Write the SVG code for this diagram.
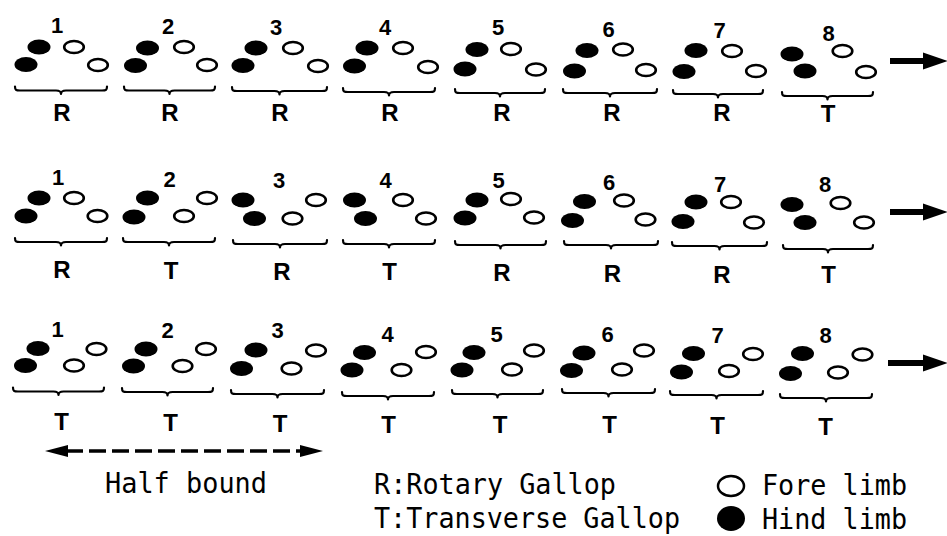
<svg xmlns="http://www.w3.org/2000/svg" width="947" height="536" viewBox="0 0 947 536">
  <style>
    .hind { fill: #000; }
    .fore { fill: #fff; stroke: #000; stroke-width: 2.6; }
    .brace { fill: none; stroke: #000; stroke-width: 2.2; stroke-linecap: round; stroke-linejoin: round; }
    .num { font-family: "Liberation Sans", Arial, sans-serif; font-weight: bold; font-size: 22px; text-anchor: middle; fill: #000; }
    .lbl { font-family: "Liberation Sans", Arial, sans-serif; font-weight: bold; font-size: 24px; text-anchor: middle; fill: #000; }
    .mono { font-family: "DejaVu Sans Mono", "Liberation Mono", monospace; font-size: 29px; fill: #000; }
  </style>
  <rect width="947" height="536" fill="#fff"/>

  <!-- Row 1 -->
  <g id="r1-s1">
    <text class="num" x="57" y="33">1</text>
    <ellipse class="hind" cx="39" cy="47" rx="11.5" ry="7.5"/>
    <ellipse class="hind" cx="26" cy="64.5" rx="11.5" ry="7.5"/>
    <ellipse class="fore" cx="74" cy="47" rx="9.8" ry="6"/>
    <ellipse class="fore" cx="98" cy="65" rx="9.8" ry="6"/>
    <path class="brace" d="M15,86.5 C15,90 16,90.5 20,90.5 L56,90.5 C59,90.5 61,91.5 61,94 C61,91.5 63,90.5 66,90.5 L102,90.5 C106,90.5 107,90 107,86.5"/>
    <text class="lbl" x="62" y="121">R</text>
  </g>
  <g id="r1-s2">
    <text class="num" x="168" y="34">2</text>
    <ellipse class="hind" cx="147.5" cy="48" rx="11.5" ry="7.5"/>
    <ellipse class="hind" cx="135.5" cy="65.5" rx="11.5" ry="7.5"/>
    <ellipse class="fore" cx="184" cy="47" rx="9.8" ry="6"/>
    <ellipse class="fore" cx="207" cy="65" rx="9.8" ry="6"/>
    <path class="brace" d="M124,86.5 C124,90 125,90.5 129,90.5 L164.5,90.5 C167.5,90.5 169.5,91.5 169.5,94 C169.5,91.5 171.5,90.5 174.5,90.5 L210,90.5 C214,90.5 215,90 215,86.5"/>
    <text class="lbl" x="170" y="121">R</text>
  </g>
  <g id="r1-s3">
    <text class="num" x="276" y="35">3</text>
    <ellipse class="hind" cx="256" cy="48" rx="11.5" ry="7.5"/>
    <ellipse class="hind" cx="243" cy="65.5" rx="11.5" ry="7.5"/>
    <ellipse class="fore" cx="293" cy="48" rx="9.8" ry="6"/>
    <ellipse class="fore" cx="318" cy="66" rx="9.8" ry="6"/>
    <path class="brace" d="M232,87 C232,90.5 233,91 237,91 L274.5,91 C277.5,91 279.5,92 279.5,94.5 C279.5,92 281.5,91 284.5,91 L322,91 C326,91 327,90.5 327,87"/>
    <text class="lbl" x="280" y="121">R</text>
  </g>
  <g id="r1-s4">
    <text class="num" x="385" y="35">4</text>
    <ellipse class="hind" cx="367" cy="48" rx="11.5" ry="7.5"/>
    <ellipse class="hind" cx="354.5" cy="66" rx="11.5" ry="7.5"/>
    <ellipse class="fore" cx="403" cy="48" rx="9.8" ry="6"/>
    <ellipse class="fore" cx="428" cy="67" rx="9.8" ry="6"/>
    <path class="brace" d="M343,88 C343,91.5 344,92 348,92 L384,92 C387,92 389,93 389,95.5 C389,93 391,92 394,92 L430,92 C434,92 435,91.5 435,88"/>
    <text class="lbl" x="390" y="121">R</text>
  </g>
  <g id="r1-s5">
    <text class="num" x="498" y="35">5</text>
    <ellipse class="hind" cx="477" cy="49.5" rx="11.5" ry="7.5"/>
    <ellipse class="hind" cx="465" cy="69" rx="11.5" ry="7.5"/>
    <ellipse class="fore" cx="511" cy="49" rx="9.8" ry="6"/>
    <ellipse class="fore" cx="536" cy="69.5" rx="9.8" ry="6"/>
    <path class="brace" d="M455,89 C455,92.5 456,93 460,93 L495,93 C498,93 500,94 500,96.5 C500,94 502,93 505,93 L540,93 C544,93 545,92.5 545,89"/>
    <text class="lbl" x="502" y="121">R</text>
  </g>
  <g id="r1-s6">
    <text class="num" x="608.5" y="37">6</text>
    <ellipse class="hind" cx="587" cy="50.5" rx="11.5" ry="7.5"/>
    <ellipse class="hind" cx="574.5" cy="71" rx="11.5" ry="7.5"/>
    <ellipse class="fore" cx="623" cy="49.5" rx="9.8" ry="6"/>
    <ellipse class="fore" cx="646" cy="70" rx="9.8" ry="6"/>
    <path class="brace" d="M563,89 C563,92.5 564,93 568,93 L605,93 C608,93 610,94 610,96.5 C610,94 612,93 615,93 L652,93 C656,93 657,92.5 657,89"/>
    <text class="lbl" x="612" y="121">R</text>
  </g>
  <g id="r1-s7">
    <text class="num" x="719.5" y="38">7</text>
    <ellipse class="hind" cx="696" cy="50.5" rx="11.5" ry="7.5"/>
    <ellipse class="hind" cx="684" cy="71.5" rx="11.5" ry="7.5"/>
    <ellipse class="fore" cx="732" cy="51" rx="9.8" ry="6"/>
    <ellipse class="fore" cx="756" cy="71" rx="9.8" ry="6"/>
    <path class="brace" d="M673,90 C673,93.5 674,94 678,94 L713,94 C716,94 718,95 718,97.5 C718,95 720,94 723,94 L758,94 C762,94 763,93.5 763,90"/>
    <text class="lbl" x="722" y="121">R</text>
  </g>
  <g id="r1-s8">
    <text class="num" x="828.5" y="41">8</text>
    <ellipse class="hind" cx="792" cy="54" rx="11.5" ry="7.5"/>
    <ellipse class="hind" cx="805" cy="71" rx="11.5" ry="7.5"/>
    <ellipse class="fore" cx="842.5" cy="51" rx="9.8" ry="6"/>
    <ellipse class="fore" cx="866" cy="72" rx="9.8" ry="6"/>
    <path class="brace" d="M782,92 C782,95.5 783,96 787,96 L822.5,96 C825.5,96 827.5,97 827.5,99.5 C827.5,97 829.5,96 832.5,96 L868,96 C872,96 873,95.5 873,92"/>
    <text class="lbl" x="828" y="122">T</text>
  </g>

  <!-- Row 2 -->
  <g id="r2-s1">
    <text class="num" x="58" y="185">1</text>
    <ellipse class="hind" cx="39" cy="198" rx="11.5" ry="7.5"/>
    <ellipse class="hind" cx="26" cy="216" rx="11.5" ry="7.5"/>
    <ellipse class="fore" cx="74" cy="198" rx="9.8" ry="6"/>
    <ellipse class="fore" cx="97.5" cy="216" rx="9.8" ry="6"/>
    <path class="brace" d="M15,238 C15,241.5 16,242 20,242 L56,242 C59,242 61,243 61,245.5 C61,243 63,242 66,242 L102,242 C106,242 107,241.5 107,238"/>
    <text class="lbl" x="62" y="278">R</text>
  </g>
  <g id="r2-s2">
    <text class="num" x="169.5" y="187">2</text>
    <ellipse class="hind" cx="147.5" cy="198" rx="11.5" ry="7.5"/>
    <ellipse class="hind" cx="134" cy="217" rx="11.5" ry="7.5"/>
    <ellipse class="fore" cx="184" cy="216" rx="9.8" ry="6"/>
    <ellipse class="fore" cx="207" cy="198" rx="9.8" ry="6"/>
    <path class="brace" d="M123,238 C123,241.5 124,242 128,242 L164,242 C167,242 169,243 169,245.5 C169,243 171,242 174,242 L210,242 C214,242 215,241.5 215,238"/>
    <text class="lbl" x="171" y="279">T</text>
  </g>
  <g id="r2-s3">
    <text class="num" x="279" y="188">3</text>
    <ellipse class="hind" cx="243" cy="200" rx="11.5" ry="7.5"/>
    <ellipse class="hind" cx="254.5" cy="218.5" rx="11.5" ry="7.5"/>
    <ellipse class="fore" cx="292.5" cy="218.5" rx="9.8" ry="6"/>
    <ellipse class="fore" cx="316" cy="200" rx="9.8" ry="6"/>
    <path class="brace" d="M233,240 C233,243.5 234,244 238,244 L275,244 C278,244 280,245 280,247.5 C280,245 282,244 285,244 L322,244 C326,244 327,243.5 327,240"/>
    <text class="lbl" x="282" y="280">R</text>
  </g>
  <g id="r2-s4">
    <text class="num" x="385.5" y="188">4</text>
    <ellipse class="hind" cx="354.5" cy="200" rx="11.5" ry="7.5"/>
    <ellipse class="hind" cx="365.5" cy="218.5" rx="11.5" ry="7.5"/>
    <ellipse class="fore" cx="403" cy="200" rx="9.8" ry="6"/>
    <ellipse class="fore" cx="426" cy="218.5" rx="9.8" ry="6"/>
    <path class="brace" d="M343,240 C343,243.5 344,244 348,244 L384,244 C387,244 389,245 389,247.5 C389,245 391,244 394,244 L430,244 C434,244 435,243.5 435,240"/>
    <text class="lbl" x="389.5" y="280">T</text>
  </g>
  <g id="r2-s5">
    <text class="num" x="498.5" y="188">5</text>
    <ellipse class="hind" cx="477" cy="200" rx="11.5" ry="7.5"/>
    <ellipse class="hind" cx="465" cy="218" rx="11.5" ry="7.5"/>
    <ellipse class="fore" cx="511" cy="199" rx="9.8" ry="6"/>
    <ellipse class="fore" cx="534" cy="217.5" rx="9.8" ry="6"/>
    <path class="brace" d="M455,241 C455,244.5 456,245 460,245 L495.5,245 C498.5,245 500.5,246 500.5,248.5 C500.5,246 502.5,245 505.5,245 L541,245 C545,245 546,244.5 546,241"/>
    <text class="lbl" x="502" y="281">R</text>
  </g>
  <g id="r2-s6">
    <text class="num" x="609" y="190">6</text>
    <ellipse class="hind" cx="584.5" cy="201.5" rx="11.5" ry="7.5"/>
    <ellipse class="hind" cx="572.5" cy="220.5" rx="11.5" ry="7.5"/>
    <ellipse class="fore" cx="624" cy="200.5" rx="9.8" ry="6"/>
    <ellipse class="fore" cx="645.5" cy="219.5" rx="9.8" ry="6"/>
    <path class="brace" d="M564,241 C564,244.5 565,245 569,245 L606,245 C609,245 611,246 611,248.5 C611,246 613,245 616,245 L653,245 C657,245 658,244.5 658,241"/>
    <text class="lbl" x="612.5" y="282">R</text>
  </g>
  <g id="r2-s7">
    <text class="num" x="720" y="192">7</text>
    <ellipse class="hind" cx="696" cy="202" rx="11.5" ry="7.5"/>
    <ellipse class="hind" cx="683" cy="221.5" rx="11.5" ry="7.5"/>
    <ellipse class="fore" cx="731" cy="202" rx="9.8" ry="6"/>
    <ellipse class="fore" cx="754" cy="222.5" rx="9.8" ry="6"/>
    <path class="brace" d="M672,242 C672,245.5 673,246 677,246 L714.5,246 C717.5,246 719.5,247 719.5,249.5 C719.5,247 721.5,246 724.5,246 L762,246 C766,246 767,245.5 767,242"/>
    <text class="lbl" x="722" y="283">R</text>
  </g>
  <g id="r2-s8">
    <text class="num" x="825" y="192">8</text>
    <ellipse class="hind" cx="792" cy="204.5" rx="11.5" ry="7.5"/>
    <ellipse class="hind" cx="805" cy="222.5" rx="11.5" ry="7.5"/>
    <ellipse class="fore" cx="840.5" cy="203" rx="9.8" ry="6"/>
    <ellipse class="fore" cx="864" cy="222.5" rx="9.8" ry="6"/>
    <path class="brace" d="M783,245 C783,248.5 784,249 788,249 L823,249 C826,249 828,250 828,252.5 C828,250 830,249 833,249 L868,249 C872,249 873,248.5 873,245"/>
    <text class="lbl" x="828.5" y="283">T</text>
  </g>

  <!-- Row 3 -->
  <g id="r3-s1">
    <text class="num" x="57.5" y="337">1</text>
    <ellipse class="hind" cx="38" cy="348.5" rx="11.5" ry="7.5"/>
    <ellipse class="hind" cx="25.5" cy="365.5" rx="11.5" ry="7.5"/>
    <ellipse class="fore" cx="74" cy="365.5" rx="9.8" ry="6"/>
    <ellipse class="fore" cx="96.5" cy="349" rx="9.8" ry="6"/>
    <path class="brace" d="M13,387.5 C13,391 14,391.5 18,391.5 L53.5,391.5 C56.5,391.5 58.5,392.5 58.5,395 C58.5,392.5 60.5,391.5 63.5,391.5 L99,391.5 C103,391.5 104,391 104,387.5"/>
    <text class="lbl" x="61.5" y="430">T</text>
  </g>
  <g id="r3-s2">
    <text class="num" x="167.5" y="338">2</text>
    <ellipse class="hind" cx="146" cy="349" rx="11.5" ry="7.5"/>
    <ellipse class="hind" cx="133.5" cy="366" rx="11.5" ry="7.5"/>
    <ellipse class="fore" cx="182.5" cy="366" rx="9.8" ry="6"/>
    <ellipse class="fore" cx="206" cy="349" rx="9.8" ry="6"/>
    <path class="brace" d="M122,388 C122,391.5 123,392 127,392 L162.5,392 C165.5,392 167.5,393 167.5,395.5 C167.5,393 169.5,392 172.5,392 L208,392 C212,392 213,391.5 213,388"/>
    <text class="lbl" x="170.5" y="431">T</text>
  </g>
  <g id="r3-s3">
    <text class="num" x="277.5" y="338">3</text>
    <ellipse class="hind" cx="256" cy="350" rx="11.5" ry="7.5"/>
    <ellipse class="hind" cx="241.5" cy="368.5" rx="11.5" ry="7.5"/>
    <ellipse class="fore" cx="291.5" cy="368.5" rx="9.8" ry="6"/>
    <ellipse class="fore" cx="316" cy="350.5" rx="9.8" ry="6"/>
    <path class="brace" d="M231,390 C231,393.5 232,394 236,394 L272.5,394 C275.5,394 277.5,395 277.5,397.5 C277.5,395 279.5,394 282.5,394 L319,394 C323,394 324,393.5 324,390"/>
    <text class="lbl" x="280" y="432">T</text>
  </g>
  <g id="r3-s4">
    <text class="num" x="387.5" y="342">4</text>
    <ellipse class="hind" cx="364.5" cy="352.5" rx="11.5" ry="7.5"/>
    <ellipse class="hind" cx="352" cy="370" rx="11.5" ry="7.5"/>
    <ellipse class="fore" cx="401.5" cy="370" rx="9.8" ry="6"/>
    <ellipse class="fore" cx="426" cy="352" rx="9.8" ry="6"/>
    <path class="brace" d="M342,392 C342,395.5 343,396 347,396 L383,396 C386,396 388,397 388,399.5 C388,397 390,396 393,396 L429,396 C433,396 434,395.5 434,392"/>
    <text class="lbl" x="388.5" y="433">T</text>
  </g>
  <g id="r3-s5">
    <text class="num" x="496.5" y="342">5</text>
    <ellipse class="hind" cx="474" cy="352.5" rx="11.5" ry="7.5"/>
    <ellipse class="hind" cx="462" cy="370" rx="11.5" ry="7.5"/>
    <ellipse class="fore" cx="512" cy="369.5" rx="9.8" ry="6"/>
    <ellipse class="fore" cx="534" cy="350.5" rx="9.8" ry="6"/>
    <path class="brace" d="M452,390 C452,393.5 453,394 457,394 L492.5,394 C495.5,394 497.5,395 497.5,397.5 C497.5,395 499.5,394 502.5,394 L538,394 C542,394 543,393.5 543,390"/>
    <text class="lbl" x="500" y="433">T</text>
  </g>
  <g id="r3-s6">
    <text class="num" x="607.5" y="342">6</text>
    <ellipse class="hind" cx="584" cy="353" rx="11.5" ry="7.5"/>
    <ellipse class="hind" cx="571.5" cy="370.5" rx="11.5" ry="7.5"/>
    <ellipse class="fore" cx="622" cy="369.5" rx="9.8" ry="6"/>
    <ellipse class="fore" cx="644" cy="350.5" rx="9.8" ry="6"/>
    <path class="brace" d="M562,389 C562,392.5 563,393 567,393 L603.5,393 C606.5,393 608.5,394 608.5,396.5 C608.5,394 610.5,393 613.5,393 L650,393 C654,393 655,392.5 655,389"/>
    <text class="lbl" x="609.5" y="433">T</text>
  </g>
  <g id="r3-s7">
    <text class="num" x="717.5" y="343">7</text>
    <ellipse class="hind" cx="693.5" cy="353.5" rx="11.5" ry="7.5"/>
    <ellipse class="hind" cx="681.5" cy="372" rx="11.5" ry="7.5"/>
    <ellipse class="fore" cx="729" cy="371" rx="9.8" ry="6"/>
    <ellipse class="fore" cx="753" cy="354" rx="9.8" ry="6"/>
    <path class="brace" d="M670,391 C670,394.5 671,395 675,395 L711.5,395 C714.5,395 716.5,396 716.5,398.5 C716.5,396 718.5,395 721.5,395 L758,395 C762,395 763,394.5 763,391"/>
    <text class="lbl" x="717.5" y="434">T</text>
  </g>
  <g id="r3-s8">
    <text class="num" x="825.5" y="343">8</text>
    <ellipse class="hind" cx="802.5" cy="353.5" rx="11.5" ry="7.5"/>
    <ellipse class="hind" cx="790.5" cy="373.5" rx="11.5" ry="7.5"/>
    <ellipse class="fore" cx="838" cy="372.5" rx="9.8" ry="6"/>
    <ellipse class="fore" cx="862.5" cy="354.5" rx="9.8" ry="6"/>
    <path class="brace" d="M780,394 C780,397.5 781,398 785,398 L821,398 C824,398 826,399 826,401.5 C826,399 828,398 831,398 L867,398 C871,398 872,397.5 872,394"/>
    <text class="lbl" x="825.5" y="435">T</text>
  </g>

  <!-- Direction arrows and half-bound span -->
  <g id="connectors">
    <path d="M890,58 L923,58 L923,52.5 L948,61 L923,69.5 L923,64 L890,64 Z" fill="#000"/>
    <path d="M890,209 L923,209 L923,203.5 L948,212 L923,220.5 L923,215 L890,215 Z" fill="#000"/>
    <path d="M888,360 L923,360 L923,354.5 L948,363 L923,371.5 L923,366 L888,366 Z" fill="#000"/>
    <line x1="66" y1="451" x2="302" y2="451" stroke="#000" stroke-width="3.5" stroke-dasharray="17 6"/>
    <path d="M45,451 L68,445 L68,457 Z" fill="#000"/>
    <path d="M323,451 L300,445 L300,457 Z" fill="#000"/>
  </g>

  <!-- Legend -->
  <g id="legend">
    <text class="mono" x="105" y="493" textLength="162" lengthAdjust="spacingAndGlyphs">Half bound</text>
    <text class="mono" x="374" y="494" textLength="242" lengthAdjust="spacingAndGlyphs">R:Rotary Gallop</text>
    <text class="mono" x="374" y="528" textLength="306" lengthAdjust="spacingAndGlyphs">T:Transverse Gallop</text>
    <ellipse cx="731" cy="486" rx="13" ry="10" fill="#fff" stroke="#000" stroke-width="2.5"/>
    <text class="mono" x="762" y="495" textLength="145" lengthAdjust="spacingAndGlyphs">Fore limb</text>
    <ellipse cx="731" cy="518.5" rx="14" ry="12.5" fill="#000"/>
    <text class="mono" x="762" y="529" textLength="145" lengthAdjust="spacingAndGlyphs">Hind limb</text>
  </g>
</svg>
